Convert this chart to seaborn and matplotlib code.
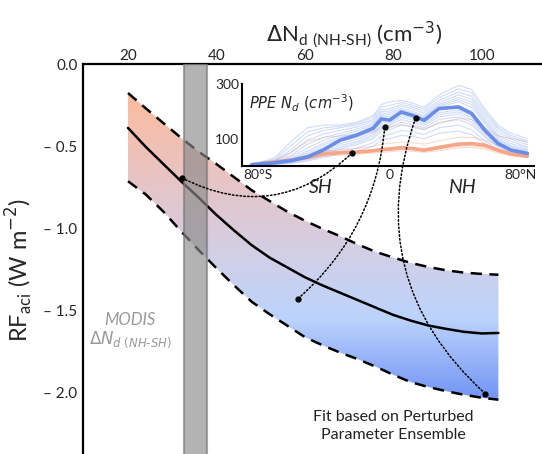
import numpy as np
import seaborn as sns
import matplotlib.pyplot as plt
from matplotlib.colors import LinearSegmentedColormap
from matplotlib.patches import ConnectionPatch

# Main fit: RF_aci vs Delta Nd (NH-SH)
dnd = [20, 24, 28, 32, 36, 40, 44, 48, 52, 56, 60, 64, 68, 72, 76, 80, 84, 88, 92, 96, 100, 103.8]
rf_mean = [-0.39, -0.505, -0.61, -0.715, -0.815, -0.92, -1.015, -1.105, -1.18, -1.24, -1.30,
           -1.35, -1.395, -1.44, -1.485, -1.53, -1.565, -1.595, -1.615, -1.633, -1.643, -1.64]
rf_upper = [-0.177, -0.27, -0.36, -0.45, -0.535, -0.61, -0.69, -0.77, -0.835, -0.9, -0.955,
            -1.005, -1.05, -1.1, -1.145, -1.18, -1.213, -1.238, -1.258, -1.272, -1.28, -1.285]
rf_lower = [-0.715, -0.795, -0.9, -1.02, -1.135, -1.245, -1.35, -1.45, -1.525, -1.595, -1.665,
            -1.715, -1.76, -1.80, -1.845, -1.895, -1.94, -1.97, -1.995, -2.017, -2.035, -2.047]

modis_lo, modis_hi = 32.7, 37.9

# Inset: PPE Nd by latitude
lat = [-84, -70, -60, -50, -40, -30, -20, -10, -5, 0, 7, 14, 21, 30, 42, 50, 58, 66, 74, 84]
nd_blue = [5, 12, 20, 33, 60, 95, 113, 138, 172, 168, 197, 185, 167, 210, 216, 192, 131, 83, 58, 46]
nd_orange = [5, 15, 22, 32, 45, 49, 51, 56, 60, 62, 67, 64, 58, 68, 80, 82, 76, 58, 44, 36]

ens_blue = [
    [5, 30, 90, 140, 150, 150, 160, 185, 225, 235, 240, 230, 215, 260, 295, 280, 210, 150, 120, 100],
    [5, 25, 75, 125, 140, 145, 155, 178, 215, 222, 232, 222, 208, 250, 282, 268, 200, 142, 112, 92],
    [5, 20, 60, 110, 130, 140, 150, 170, 205, 210, 225, 215, 200, 240, 270, 255, 190, 135, 105, 85],
    [5, 18, 50, 95, 118, 130, 143, 163, 198, 202, 218, 208, 193, 232, 260, 245, 180, 125, 98, 78],
    [5, 15, 40, 80, 105, 120, 135, 155, 190, 195, 210, 200, 185, 225, 250, 235, 170, 115, 90, 70],
    [5, 13, 34, 66, 95, 112, 128, 150, 185, 188, 205, 195, 180, 220, 242, 225, 162, 108, 82, 65],
    [5, 12, 28, 55, 85, 105, 120, 145, 180, 180, 200, 190, 175, 215, 235, 215, 155, 100, 75, 60],
    [5, 11, 25, 48, 78, 98, 112, 136, 170, 170, 192, 182, 168, 205, 220, 200, 142, 94, 70, 56],
    [5, 10, 22, 42, 70, 90, 105, 128, 160, 160, 185, 175, 160, 195, 205, 185, 130, 88, 65, 52],
    [5, 9, 20, 38, 62, 82, 98, 122, 152, 154, 178, 168, 154, 188, 198, 178, 124, 83, 61, 50],
    [5, 8, 18, 35, 55, 75, 90, 115, 145, 148, 170, 160, 148, 180, 190, 170, 118, 78, 58, 48],
    [5, 8, 16, 31, 50, 68, 84, 108, 136, 140, 160, 151, 140, 170, 180, 160, 111, 74, 55, 45],
    [5, 8, 15, 28, 45, 62, 78, 100, 128, 132, 150, 142, 132, 160, 170, 150, 105, 70, 52, 42],
    [5, 7, 12, 22, 38, 52, 65, 85, 110, 115, 130, 125, 115, 140, 150, 132, 92, 62, 46, 38],
    [5, 6, 10, 18, 32, 45, 55, 72, 95, 100, 112, 108, 100, 120, 128, 115, 82, 56, 42, 35],
]
ens_orange = [
    [5, 20, 50, 90, 105, 110, 115, 125, 140, 145, 150, 145, 135, 155, 175, 170, 140, 110, 100, 90],
    [5, 12, 25, 40, 55, 60, 65, 72, 80, 82, 88, 85, 80, 92, 105, 105, 95, 75, 60, 50],
    [5, 10, 18, 28, 40, 45, 48, 52, 56, 58, 62, 60, 55, 62, 72, 74, 68, 52, 40, 32],
    [5, 9, 16, 25, 36, 40, 43, 47, 50, 52, 56, 54, 50, 56, 66, 68, 62, 48, 37, 30],
]

# dots linking the fit to the inset (main x, main y, inset lat, inset Nd, arc)
links = [
    (32.2, -0.695, -23, 47, 0.35),
    (58.5, -1.43, -3, 142, 0.2),
    (100.8, -2.01, 15.8, 175, -0.33),
]

sns.set_theme(style="white")
plt.rcParams['font.family'] = ['Lato', 'DejaVu Sans']

fig = plt.figure(figsize=(5.42, 4.54), dpi=100)
top_px = 64
ax = fig.add_axes([83 / 542, -0.05, 1.0, (454 - top_px) / 454 + 0.05])
ax.set_xlim(20 - 45 / 4.42, 20 - 45 / 4.42 + 542 / 4.42)
ax.set_ylim(-(454 - top_px) / 164 - 0.05 * 454 / 164, 0)

# gradient fill between the bounds
cmap = LinearSegmentedColormap.from_list(
    "rf", [(0.0, "#6a8ef4"), (0.28, "#bcd3fc"), (0.45, "#cfd0ea"), (0.72, "#e8c4c4"), (1.0, "#fdbb9c")])
poly = ax.fill_between(dnd, rf_lower, rf_upper, color="none", lw=0)
grad = np.linspace(0, 1, 256).reshape(-1, 1)
im = ax.imshow(grad, extent=[dnd[0], dnd[-1], -2.1, -0.15], origin="lower",
               aspect="auto", cmap=cmap, zorder=1)
clip = poly.get_paths()[0]
im.set_clip_path(clip, transform=ax.transData)

sns.lineplot(x=dnd, y=rf_mean, ax=ax, color="black", lw=1.8, zorder=3)
sns.lineplot(x=dnd, y=rf_upper, ax=ax, color="black", lw=1.8, zorder=3)
sns.lineplot(x=dnd, y=rf_lower, ax=ax, color="black", lw=1.8, zorder=3)
ax.lines[1].set_linestyle((0, (4.5, 3)))
ax.lines[2].set_linestyle((0, (4.5, 3)))

ax.axvspan(modis_lo, modis_hi, facecolor="#8a8a8a", alpha=0.65, edgecolor="#777777", lw=1.5, zorder=4)

ax.xaxis.tick_top()
ax.xaxis.set_label_position("top")
ax.set_xticks([20, 40, 60, 80, 100])
ax.set_yticks([0, -0.5, -1.0, -1.5, -2.0])
ax.set_yticklabels(["0.0", "– 0.5", "– 1.0", "– 1.5", "– 2.0"])
ax.tick_params(axis="y", labelsize=11, length=2, width=1, color="black", pad=2)
ax.tick_params(axis="x", labelsize=11, length=0, pad=0.5)
for side in ["right", "bottom"]:
    ax.spines[side].set_visible(False)
for side in ["left", "top"]:
    ax.spines[side].set_color("black")
    ax.spines[side].set_linewidth(1.6)
ax.set_xlabel(r"$\Delta$N$_{\mathregular{d\ (NH\text{-}SH)}}$ (cm$^{-3}$)", fontsize=16, labelpad=6)
ax.set_ylabel(r"RF$_{\mathregular{aci}}$ (W m$^{-2}$)", fontsize=17, labelpad=6)

ax.text(20.5, -1.561, "MODIS", color="#999999", fontsize=12, style="italic", ha="center", va="center")
ax.text(20.5, -1.683, r"$\Delta$$\mathit{N}_{\mathit{d\ (NH\text{-}SH)}}$", color="#999999", fontsize=12,
        ha="center", va="center")
ax.text(80, -2.207, "Fit based on Perturbed\nParameter Ensemble", fontsize=11.5, ha="center",
        va="center", linespacing=1.3, color="#222222")

# inset
ins = fig.add_axes([242 / 542, (454 - 166) / 454, 292 / 542, 82 / 454])
ins.patch.set_alpha(0)
for row in ens_orange:
    sns.lineplot(x=lat, y=row, ax=ins, color="#f6b49a", lw=0.7, alpha=0.55)
for row in ens_blue:
    sns.lineplot(x=lat, y=row, ax=ins, color="#8aa8ee", lw=0.8, alpha=0.4)
sns.lineplot(x=lat, y=nd_orange, ax=ins, color="#f4a686", lw=2.6)
sns.lineplot(x=lat, y=nd_blue, ax=ins, color="#6a8ee8", lw=2.6)
ins.set_xlim(-90, 88)
ins.set_ylim(0, 300)
ins.set_xticks([-80, 0, 80])
ins.set_xticklabels(["80°S", "0", "80°N"])
ins.set_yticks([100, 300])
ins.tick_params(axis="both", labelsize=10, length=0, pad=2)
for side in ["right", "top"]:
    ins.spines[side].set_visible(False)
for side in ["left", "bottom"]:
    ins.spines[side].set_color("black")
    ins.spines[side].set_linewidth(1.5)
ins.text(-86, 229, r"$\mathit{PPE\ N_d\ (cm^{-3})}$", fontsize=10.5, va="center")
ins.text(-42, -80, "SH", fontsize=14, style="italic", ha="center", va="center")
ins.text(44, -80, "NH", fontsize=14, style="italic", ha="center", va="center")

for mx, my, la, nd, rad in links:
    con = ConnectionPatch(xyA=(mx, my), coordsA=ax.transData, xyB=(la, nd), coordsB=ins.transData,
                          connectionstyle=f"arc3,rad={rad}", ls=(0, (1, 1.5)), lw=1.1, color="black", zorder=6)
    fig.add_artist(con)
    ax.plot(mx, my, "o", color="black", ms=3.5, zorder=7)
    ins.plot(la, nd, "o", color="black", ms=3.5, zorder=7)

plt.savefig("out.png", dpi=100)
